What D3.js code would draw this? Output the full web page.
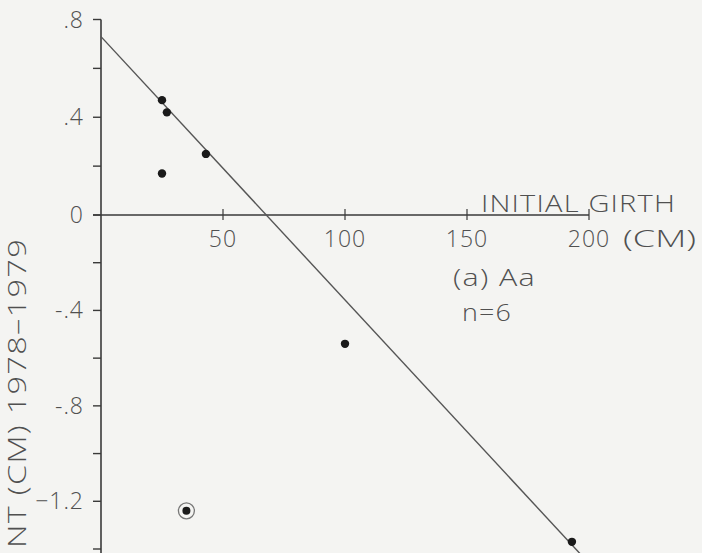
<!DOCTYPE html>
<html>
<head>
<meta charset="utf-8">
<script src="https://cdn.jsdelivr.net/npm/d3@7"></script>
<style>
  html, body { margin: 0; padding: 0; background: #f4f4f2; }
  svg { display: block; }
  text { font-family: "Open Sans", "Lato", sans-serif; font-weight: 300; fill: #505050; }
</style>
</head>
<body>
<svg id="chart" width="702" height="553"></svg>
<script>
// ---- data ----
const girth     = [25, 27, 43, 25, 100, 193];             // initial girth (cm), fitted points
const increment = [0.47, 0.42, 0.25, 0.17, -0.54, -1.37]; // girth increment 1978-1979 (cm)
const outlierGirth = [35];
const outlierIncrement = [-1.24];
const fitLineX = [0, 200];
const fitLineY = [0.73, -1.46];
const xTickValues = [50, 100, 150, 200];
const xTickLabels = ["50", "100", "150", "200"];
const yTickValues = [0.8, 0.6, 0.4, 0.2, 0, -0.2, -0.4, -0.6, -0.8, -1.0, -1.2, -1.4];
const yLabelValues = [0.8, 0.4, 0, -0.4, -0.8, -1.2];
const yLabelTexts = [".8", ".4", "0", "-.4", "-.8", "\u22121.2"];

const svg = d3.select("#chart");
const x = d3.scaleLinear().domain([0, 200]).range([101, 589]);
const y = d3.scaleLinear().domain([-1.4, 0, 0.8]).range([549, 215, 19.5]);

const axisColor = "#3a3a3a";

// y axis line
svg.append("line")
  .attr("x1", x(0)).attr("x2", x(0))
  .attr("y1", y(0.8)).attr("y2", 553)
  .attr("stroke", axisColor).attr("stroke-width", 1.6);

// y ticks
svg.selectAll(".ytick").data(yTickValues).enter().append("line")
  .attr("x1", x(0) - 8).attr("x2", x(0))
  .attr("y1", d => y(d)).attr("y2", d => y(d))
  .attr("stroke", axisColor).attr("stroke-width", 1.4);

// y tick labels
svg.selectAll(".ylab").data(yLabelValues).enter().append("text")
  .attr("x", x(0) - 17)
  .attr("y", d => y(d))
  .attr("dy", "0.35em")
  .attr("text-anchor", "end")
  .style("font-size", "23px")
  .style("letter-spacing", "1px")
  .text((d, i) => yLabelTexts[i]);

// x axis line
svg.append("line")
  .attr("x1", x(0) - 8).attr("x2", x(200))
  .attr("y1", y(0)).attr("y2", y(0))
  .attr("stroke", axisColor).attr("stroke-width", 1.4);

// x ticks (crossing)
svg.selectAll(".xtick").data(xTickValues).enter().append("line")
  .attr("x1", d => x(d)).attr("x2", d => x(d))
  .attr("y1", y(0) - 6).attr("y2", y(0) + 5)
  .attr("stroke", axisColor).attr("stroke-width", 1.2);

// x tick labels
svg.selectAll(".xlab").data(xTickValues).enter().append("text")
  .attr("x", d => x(d))
  .attr("y", y(0) + 24)
  .attr("dy", "0.35em")
  .attr("text-anchor", "middle")
  .style("font-size", "23px")
  .style("letter-spacing", "1px")
  .text((d, i) => xTickLabels[i]);

// axis titles
svg.append("text")
  .attr("x", 481).attr("y", 212)
  .style("font-size", "24px")
  .style("letter-spacing", "1px")
  .attr("textLength", 195)
  .attr("lengthAdjust", "spacingAndGlyphs")
  .text("INITIAL GIRTH");
svg.append("text")
  .attr("x", 623).attr("y", y(0) + 24)
  .attr("dy", "0.35em")
  .style("font-size", "23px")
  .attr("textLength", 73)
  .attr("lengthAdjust", "spacingAndGlyphs")
  .text("(CM)");

svg.append("text")
  .attr("transform", "translate(26,238) rotate(-90)")
  .attr("text-anchor", "end")
  .style("font-size", "25px")
  .style("letter-spacing", "1px")
  .attr("textLength", 310)
  .attr("lengthAdjust", "spacingAndGlyphs")
  .text("NT (CM)  1978\u20131979");

// annotations
svg.append("text").attr("x", 453).attr("y", 278).attr("dy", "0.35em")
  .style("font-size", "23px")
  .style("letter-spacing", "1px")
  .attr("textLength", 83).attr("lengthAdjust", "spacingAndGlyphs")
  .text("(a) Aa");
svg.append("text").attr("x", 462).attr("y", 313).attr("dy", "0.35em")
  .style("font-size", "23px")
  .style("letter-spacing", "1px")
  .attr("textLength", 50).attr("lengthAdjust", "spacingAndGlyphs")
  .text("n=6");

// regression line
const line = d3.line().x(d => x(d[0])).y(d => y(d[1]));
svg.append("path")
  .datum(fitLineX.map((v, i) => [v, fitLineY[i]]))
  .attr("d", line)
  .attr("fill", "none")
  .attr("stroke", "#555")
  .attr("stroke-width", 1.4);

// points
svg.selectAll(".pt").data(girth).enter().append("circle")
  .attr("cx", d => x(d))
  .attr("cy", (d, i) => y(increment[i]))
  .attr("r", 4.2)
  .attr("fill", "#1a1a1a");

// outlier (circled)
svg.selectAll(".out").data(outlierGirth).enter().append("circle")
  .attr("cx", d => x(d))
  .attr("cy", (d, i) => y(outlierIncrement[i]))
  .attr("r", 8)
  .attr("fill", "none")
  .attr("stroke", "#777")
  .attr("stroke-width", 1.3);
svg.selectAll(".outdot").data(outlierGirth).enter().append("circle")
  .attr("cx", d => x(d))
  .attr("cy", (d, i) => y(outlierIncrement[i]))
  .attr("r", 4)
  .attr("fill", "#1a1a1a");
</script>
</body>
</html>
